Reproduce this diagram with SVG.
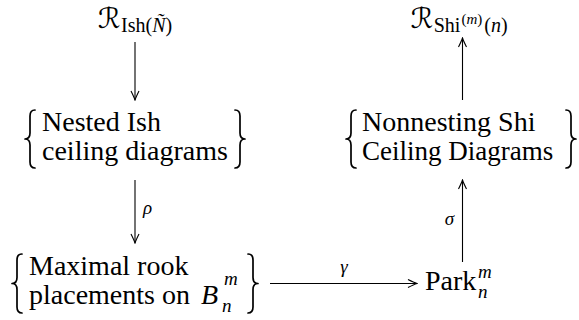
<svg xmlns="http://www.w3.org/2000/svg" width="579" height="320" viewBox="0 0 579 320">
<defs>
<style>
text{fill:#000}
.tx{font-size:28px}
.sm{font-size:19px}
.sub{font-size:20px}
.ss{font-size:15px}
.it{font-style:italic}
.cal{font-size:28px;font-style:normal}
.br{fill:none;stroke:#000;stroke-width:1.7;stroke-linecap:round;stroke-linejoin:round}
.ar{fill:none;stroke:#000;stroke-width:1.1}
</style>
<marker id="arr" viewBox="-10 -5 11 10" refX="0" refY="0" markerWidth="11" markerHeight="10" markerUnits="userSpaceOnUse" orient="auto">
<path d="M-9,-4 Q-3,-1 0,0 Q-3,1 -9,4" fill="none" stroke="#000" stroke-width="1.1"/>
</marker>
</defs>

<g id="connectors">
<line class="ar" x1="135" y1="42" x2="135" y2="100" marker-end="url(#arr)"/>
<line class="ar" x1="135" y1="180" x2="135" y2="243" marker-end="url(#arr)"/>
<line class="ar" x1="270" y1="283.5" x2="417" y2="283.5" marker-end="url(#arr)"/>
<line class="ar" x1="462.5" y1="262" x2="462.5" y2="180" marker-end="url(#arr)"/>
<line class="ar" x1="462.5" y1="100" x2="462.5" y2="38" marker-end="url(#arr)"/>
<text class="sm it" font-family="Liberation Serif" x="143" y="214">ρ</text>
<text class="sm it" font-family="Liberation Serif" x="344" y="273" text-anchor="middle">γ</text>
<text class="sm it" font-family="Liberation Serif" x="454" y="225" text-anchor="end">σ</text>
</g>

<g id="R_Ish">
<text class="sub" font-family="Liberation Serif" x="135" y="28" text-anchor="middle"><tspan class="cal" font-family="DejaVu Sans">ℛ</tspan><tspan dx="1" dy="4">Ish(</tspan><tspan class="it">Ñ</tspan><tspan>)</tspan></text>
</g>

<g id="R_Shi">
<text class="sub" font-family="Liberation Serif" x="459" y="28" text-anchor="middle"><tspan class="cal" font-family="DejaVu Sans">ℛ</tspan><tspan dx="1" dy="4">Shi</tspan><tspan class="ss" dx="1" dy="-8">(<tspan class="it">m</tspan>)</tspan><tspan dx="2" dy="8">(<tspan class="it">n</tspan>)</tspan></text>
</g>

<g id="nested_ish">
<path class="br" d="M35,110 Q30,110 30,116 L30,133 Q30,139 25,139 Q30,139 30,145 L30,162 Q30,168 35,168"/>
<text class="tx" font-family="Liberation Serif" x="42" y="131">Nested Ish</text>
<text class="tx" font-family="Liberation Serif" x="42" y="160">ceiling diagrams</text>
<path class="br" d="M235,110 Q240,110 240,116 L240,133 Q240,139 245,139 Q240,139 240,145 L240,162 Q240,168 235,168"/>
</g>

<g id="nonnesting_shi">
<path class="br" d="M356,110 Q351,110 351,116 L351,133 Q351,139 346,139 Q351,139 351,145 L351,162 Q351,168 356,168"/>
<text class="tx" font-family="Liberation Serif" x="362" y="131">Nonnesting Shi</text>
<text font-size="27" font-family="Liberation Serif" x="362" y="160">Ceiling Diagrams</text>
<path class="br" d="M566,110 Q571,110 571,116 L571,133 Q571,139 576,139 Q571,139 571,145 L571,162 Q571,168 566,168"/>
</g>

<g id="rook">
<path class="br" d="M22,254 Q17,254 17,260 L17,277.5 Q17,283.5 12,283.5 Q17,283.5 17,289.5 L17,307 Q17,313 22,313"/>
<text class="tx" font-family="Liberation Serif" x="29" y="275">Maximal rook</text>
<text class="tx" font-family="Liberation Serif" x="29" y="304">placements on</text>
<text class="tx it" font-family="Liberation Serif" x="201" y="304">B</text>
<text class="sm it" font-family="Liberation Serif" x="224" y="285">m</text>
<text class="sm it" font-family="Liberation Serif" x="222" y="312">n</text>
<path class="br" d="M248,254 Q253,254 253,260 L253,277.5 Q253,283.5 258,283.5 Q253,283.5 253,289.5 L253,307 Q253,313 248,313"/>
</g>

<g id="park">
<text class="tx" font-family="Liberation Serif" x="425" y="290">Park</text>
<text class="sm it" font-family="Liberation Serif" x="478" y="278">m</text>
<text class="sm it" font-family="Liberation Serif" x="478" y="298">n</text>
</g>
</svg>
